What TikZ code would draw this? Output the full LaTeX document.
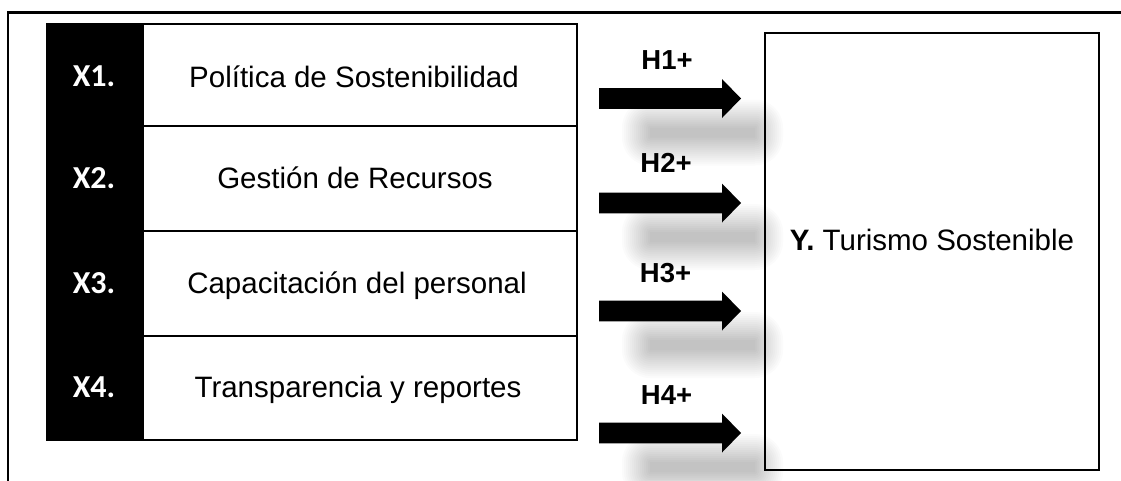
\documentclass[tikz,border=0pt]{standalone}
\usepackage{fontspec}
\setmainfont{Liberation Sans}
\newfontfamily\carlito{Carlito}
\begin{document}
\begin{tikzpicture}[x=1pt,y=-1pt,
  celltext/.style={font=\fontsize{29.5}{35}\selectfont, anchor=base, inner sep=0pt},
  xlabel/.style={font=\carlito\bfseries\fontsize{32}{37}\selectfont, text=white, anchor=base, inner sep=0pt},
  hlabel/.style={font=\bfseries\fontsize{27.5}{32}\selectfont, anchor=base, inner sep=0pt},
  gridline/.style={line width=2pt, draw=black},
  framelines/.style={line width=2.2pt, draw=black},
  blockarrow/.pic={\fill[black] (0,-10.3) -- (123,-10.3) -- (123,-19.5) -- (142,0) -- (123,19.5) -- (123,10.3) -- (0,10.3) -- cycle;},
  softshadow/.pic={\foreach \r in {0,2,...,28}{\fill[black, opacity=0.014, rounded corners=\r pt+0.1pt] (-\r,-5-\r) rectangle (105+\r,5+\r);}}
]
\useasboundingbox (0,0) rectangle (1121,480);
\fill[white] (0,0) rectangle (1121,480);
\clip (0,0) rectangle (1121,480);
% outer frame (runs off the page at right and bottom)
\draw[framelines] (8,495) -- (8,12.5) -- (1135,12.5);
% shadows of the block arrows
\foreach \c in {98.5,203,311,433}{\pic at (650,\c+34) {softshadow};}
% block arrows
\foreach \c in {98.5,203,311,433}{\pic at (599,\c) {blockarrow};}
% left table
\fill[black] (46,23) rectangle (143,441);
\draw[gridline] (143,24.3) rectangle (576.7,440);
\draw[gridline] (143,125.5) -- (576.7,125.5);
\draw[gridline] (143,231) -- (576.7,231);
\draw[gridline] (143,335.7) -- (576.7,335.7);
\node[xlabel] (x1) at (94,86.5) {X1.};
\node[xlabel] (x2) at (94,188) {X2.};
\node[xlabel] (x3) at (94,293) {X3.};
\node[xlabel] (x4) at (94,397) {X4.};
\node[celltext] (t1) at (354,87) {Política de Sostenibilidad};
\node[celltext] (t2) at (355,188) {Gestión de Recursos};
\node[celltext] (t3) at (357,293) {Capacitación del personal};
\node[celltext] (t4) at (358,397) {Transparencia y reportes};
% hypothesis labels
\node[hlabel] (h1) at (667,69.5) {H1+};
\node[hlabel] (h2) at (666,172) {H2+};
\node[hlabel] (h3) at (665.5,282) {H3+};
\node[hlabel] (h4) at (666.5,404) {H4+};
% dependent variable box
\draw[line width=2.3pt] (765,33) rectangle (1098.7,469.7);
\node[celltext] (y) at (932,250) {\textbf{Y.} Turismo Sostenible};
\end{tikzpicture}
\end{document}
